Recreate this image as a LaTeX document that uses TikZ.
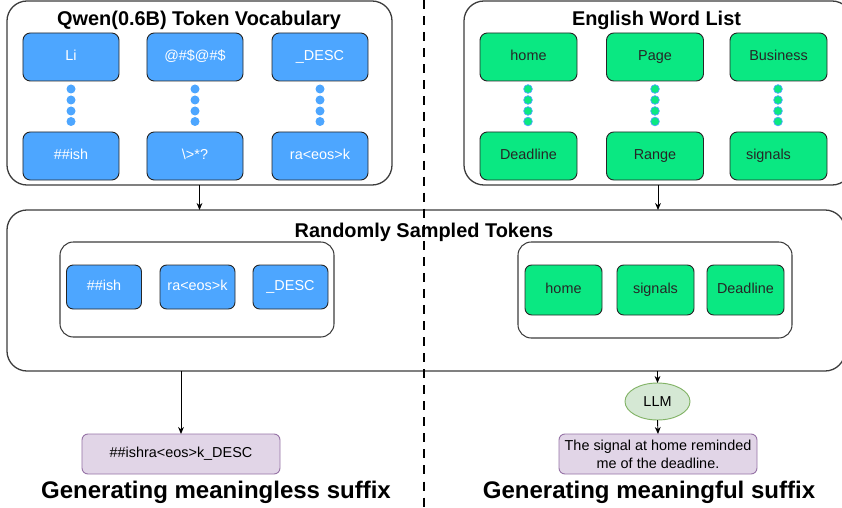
\documentclass[tikz,border=0pt]{standalone}
\usepackage{fontspec}
\setmainfont{Liberation Sans}
\usetikzlibrary{arrows.meta,shapes.geometric}
\definecolor{tokblue}{HTML}{4DA6FF}
\definecolor{wordgreen}{HTML}{0AE882}
\definecolor{outpurple}{HTML}{E1D5E7}
\definecolor{outedge}{HTML}{9673A6}
\definecolor{llmgreen}{HTML}{D5E8D4}
\definecolor{llmedge}{HTML}{82B366}
\definecolor{frame}{HTML}{3C3C3C}
\begin{document}
\begin{tikzpicture}[x=0.03cm,y=-0.03cm,
	every node/.style={inner sep=0pt,outer sep=0pt},
	group/.style={draw=frame,line width=1.1pt,rounded corners=0.6cm},
	subgroup/.style={draw=frame,line width=0.9pt,rounded corners=0.4cm},
	token/.style={draw=black!85,line width=0.8pt,fill=tokblue,text=white,rounded corners=0.22cm,
		minimum width=2.88cm,minimum height=1.44cm,text height=8.8pt,text depth=2.6pt,
		font=\fontsize{12.3}{14}\selectfont},
	word/.style={token,fill=wordgreen,text=black!85,minimum width=2.91cm},
	pick/.style={token,minimum width=2.25cm,minimum height=1.32cm,rounded corners=0.2cm},
	pickword/.style={word,minimum width=2.31cm,minimum height=1.5cm,rounded corners=0.2cm},
	suffix/.style={draw=outedge,line width=0.8pt,fill=outpurple,rounded corners=0.18cm,
		minimum width=5.94cm,minimum height=1.2cm,align=center,font=\fontsize{12.3}{15.4}\selectfont},
	heading/.style={anchor=base,font=\fontsize{17}{20}\bfseries},
	caption/.style={anchor=base,font=\fontsize{20.5}{24}\bfseries},
	flow/.style={-{Stealth[length=6pt,width=5pt]},line width=0.8pt},
	dotL/.style={fill=tokblue},
	dotR/.style={fill=wordgreen,draw=tokblue,line width=0.6pt}]
\useasboundingbox (0,0) rectangle (842,508);
\node at (199.5,93) (vocab) [group,minimum width=11.55cm,minimum height=5.52cm] {};
\node at (658,93) (wordlist) [group,minimum width=11.64cm,minimum height=5.52cm] {};
\node at (426,290.5) (sampled) [group,minimum width=25.14cm,minimum height=4.83cm] {};
\node at (199,26) (vocabtitle) [heading] {Qwen(0.6B) Token Vocabulary};
\node at (656.5,26) (wordtitle) [heading] {English Word List};
\node at (424,237) (sampledtitle) [heading] {Randomly Sampled Tokens};
\node at (71,57) (li) [token] {Li};
\node at (195,57) (sym) [token] {@\#\$@\#\$};
\node at (320,57) (desc) [token] {\_DESC};
\node at (71,156) (ish) [token] {\#\#ish};
\node at (195,156) (esc) [token] {\textbackslash>*?};
\node at (320,156) (rak) [token] {ra<eos>k};
\fill[dotL] (71,89) circle (1.35mm) (71,100) circle (1.35mm) (71,111) circle (1.35mm) (71,121.5) circle (1.35mm);
\fill[dotL] (195,89) circle (1.35mm) (195,100) circle (1.35mm) (195,111) circle (1.35mm) (195,121.5) circle (1.35mm);
\fill[dotL] (320,89) circle (1.35mm) (320,100) circle (1.35mm) (320,111) circle (1.35mm) (320,121.5) circle (1.35mm);
\node at (528.5,57) (home) [word] {home};
\node at (655,57) (page) [word] {Page};
\node at (778.5,57) (business) [word] {Business};
\node at (528.5,156) (deadline) [word] {Deadline};
\node at (655,156) (range) [word] {Range};
\node at (778.5,156) (signals) [word] {signals\hspace*{0.6cm}};
\filldraw[dotR] (528,89) circle (1.3mm) (528,100) circle (1.3mm) (528,111) circle (1.3mm) (528,121.5) circle (1.3mm);
\filldraw[dotR] (655,89) circle (1.3mm) (655,100) circle (1.3mm) (655,111) circle (1.3mm) (655,121.5) circle (1.3mm);
\filldraw[dotR] (778,89) circle (1.3mm) (778,100) circle (1.3mm) (778,111) circle (1.3mm) (778,121.5) circle (1.3mm);
\node at (197,289.5) (pickL) [subgroup,minimum width=8.22cm,minimum height=2.85cm] {};
\node at (104,287) (pish) [pick] {\#\#ish};
\node at (197.5,287) (prak) [pick] {ra<eos>k};
\node at (290.5,287) (pdesc) [pick] {\_DESC};
\node at (655,290) (pickR) [subgroup,minimum width=8.22cm,minimum height=2.88cm] {};
\node at (563.5,290) (phome) [pickword] {home};
\node at (655.5,290) (psignals) [pickword] {signals};
\node at (745.5,290) (pdeadline) [pickword] {Deadline};
\coordinate (divtop) at (424,0);
\coordinate (divbot) at (424,508);
\draw[dash pattern=on 7.7pt off 6pt,line width=1pt] (divtop)--(divbot);
\node at (181,454) (gibberish) [suffix] {\#\#ishra<eos>k\_DESC};
\node at (657.5,401.5) (llm) [draw=llmedge,line width=0.8pt,fill=llmgreen,ellipse,minimum width=1.95cm,minimum height=1.11cm,font=\fontsize{12.3}{14}\selectfont] {LLM};
\node at (658,454) (sentence) [suffix] {The signal at home reminded\\me of the deadline.};
\node at (216,498) (leftcap) [caption] {Generating meaningless suffix};
\node at (649,498) (rightcap) [caption] {Generating meaningful suffix};
\draw[flow] (vocab.south)--(vocab.south |- sampled.north);
\draw[flow] (wordlist.south)--(wordlist.south |- sampled.north);
\draw[flow] (sampled.south -| gibberish.north)--(gibberish.north);
\draw[flow] (sampled.south -| llm.north)--(llm.north);
\draw[flow] (llm.south)--(sentence.north);
\end{tikzpicture}
\end{document}
